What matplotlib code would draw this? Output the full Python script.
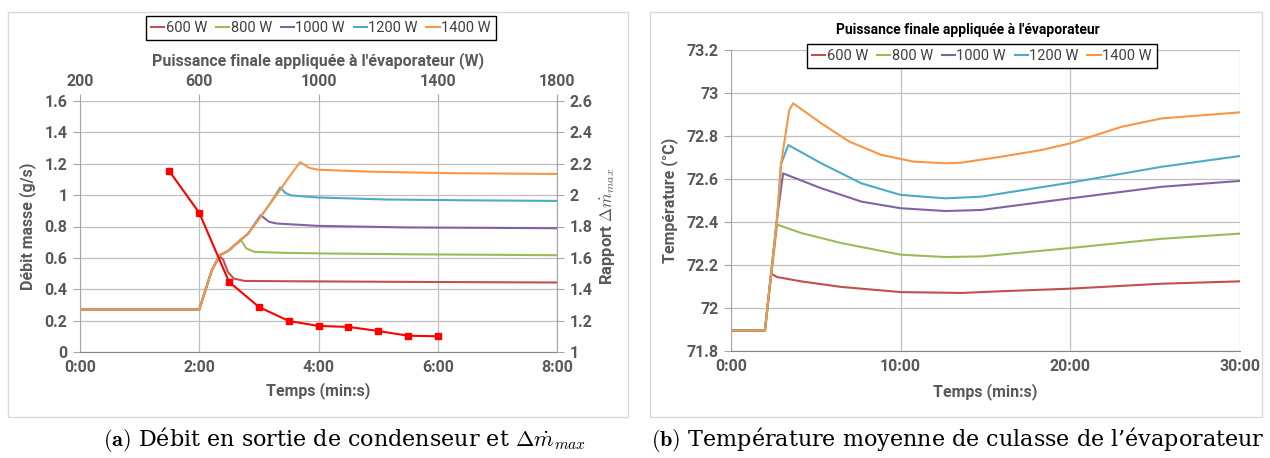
import matplotlib
matplotlib.use('Agg')
import matplotlib.pyplot as plt
from matplotlib.patches import Rectangle
from matplotlib.ticker import FuncFormatter, FormatStrFormatter
from matplotlib.lines import Line2D

plt.rcParams['font.family'] = ['Roboto', 'DejaVu Sans']
plt.rcParams['mathtext.fontset'] = 'cm'

# Office palette
COLORS = {
    '600 W': '#C0504D',
    '800 W': '#9BBB59',
    '1000 W': '#8064A2',
    '1200 W': '#4BACC6',
    '1400 W': '#F79646',
}
TXT = '#595959'
GRID = '#BFBFBF'
SERIES = ['600 W', '800 W', '1000 W', '1200 W', '1400 W']

# ---- (a) debit masse en sortie de condenseur (temps en minutes, g/s)
t_a_600 = [0, 2.0, 2.10, 2.21, 2.34, 2.40, 2.48, 2.58, 2.76, 3.5, 5.5, 8.0]
q_a_600 = [0.27, 0.27, 0.39, 0.52, 0.61, 0.59, 0.51, 0.468, 0.453, 0.451, 0.447, 0.443]
t_a_800 = [0, 2.0, 2.10, 2.21, 2.34, 2.48, 2.70, 2.79, 2.93, 3.44, 4.13, 5.5, 8.0]
q_a_800 = [0.27, 0.27, 0.39, 0.52, 0.617, 0.643, 0.713, 0.66, 0.638, 0.632, 0.628, 0.623, 0.617]
t_a_1000 = [0, 2.0, 2.10, 2.21, 2.34, 2.48, 2.69, 2.82, 3.03, 3.17, 3.30, 3.99, 5.5, 8.0]
q_a_1000 = [0.27, 0.27, 0.39, 0.52, 0.617, 0.643, 0.713, 0.755, 0.872, 0.83, 0.819, 0.804, 0.794, 0.789]
t_a_1200 = [0, 2.0, 2.10, 2.21, 2.34, 2.48, 2.69, 2.82, 3.03, 3.17, 3.36, 3.44, 3.54, 3.99, 5.15, 6.5, 8.0]
q_a_1200 = [0.27, 0.27, 0.39, 0.52, 0.617, 0.643, 0.713, 0.755, 0.862, 0.936, 1.05, 1.015, 0.998, 0.985, 0.972, 0.967, 0.963]
t_a_1400 = [0, 2.0, 2.10, 2.21, 2.34, 2.48, 2.69, 2.82, 3.03, 3.17, 3.37, 3.47, 3.69, 3.85, 3.99, 4.81, 6.18, 8.0]
q_a_1400 = [0.27, 0.27, 0.39, 0.52, 0.617, 0.643, 0.713, 0.755, 0.862, 0.936, 1.04, 1.096, 1.21, 1.173, 1.162, 1.15, 1.14, 1.135]

# rapport delta m_max en fonction de la puissance finale
puissance = [500, 600, 700, 800, 900, 1000, 1100, 1200, 1300, 1400]
rapport = [2.152, 1.887, 1.447, 1.287, 1.198, 1.166, 1.160, 1.134, 1.104, 1.100]

# ---- (b) temperature moyenne de culasse (temps en minutes, degC)
t_b_600 = [0, 2.0, 2.36, 2.72, 4.13, 6.5, 10.0, 13.6, 15.95, 20.0, 25.4, 30.0]
T_b_600 = [71.895, 71.895, 72.16, 72.144, 72.124, 72.098, 72.074, 72.07, 72.078, 72.09, 72.113, 72.124]
t_b_800 = [0, 2.0, 2.72, 4.13, 6.5, 10.0, 12.64, 14.76, 20.0, 25.4, 30.0]
T_b_800 = [71.895, 71.895, 72.388, 72.349, 72.302, 72.248, 72.237, 72.24, 72.279, 72.322, 72.346]
t_b_1000 = [0, 2.0, 2.72, 3.07, 5.32, 7.68, 10.0, 12.64, 14.76, 20.0, 25.4, 30.0]
T_b_1000 = [71.895, 71.895, 72.42, 72.626, 72.557, 72.495, 72.464, 72.451, 72.456, 72.51, 72.564, 72.591]
t_b_1200 = [0, 2.0, 2.72, 2.95, 3.38, 5.32, 7.68, 10.0, 12.64, 14.76, 20.0, 25.4, 30.0]
T_b_1200 = [71.895, 71.895, 72.42, 72.67, 72.758, 72.673, 72.58, 72.526, 72.51, 72.518, 72.583, 72.657, 72.707]
t_b_1400 = [0, 2.0, 2.72, 2.95, 3.43, 3.66, 5.32, 6.97, 8.86, 10.75, 12.64, 13.58, 15.95, 18.31, 20.0, 23.03, 25.4, 30.0]
T_b_1400 = [71.895, 71.895, 72.42, 72.67, 72.92, 72.952, 72.859, 72.774, 72.712, 72.681, 72.673, 72.676, 72.704, 72.735, 72.766, 72.843, 72.882, 72.91]

W, H = 1270, 458
fig = plt.figure(figsize=(W / 100, H / 100), dpi=100, facecolor='white')


def fx(px):
    return px / W


def fy(py):
    return 1 - py / H


def mmss(v, pos):
    m = int(v)
    s = int(round((v - m) * 60))
    return f'{m}:{s:02d}'


def style_axis(ax):
    ax.tick_params(colors=TXT, labelsize=11.5, length=0, pad=6)
    ax.tick_params(axis='y', length=5, color='#A6A6A6', direction='out', pad=4)
    for lab in ax.get_xticklabels() + ax.get_yticklabels():
        lab.set_fontweight('bold')
    ax.grid(True, color=GRID, linewidth=0.9)
    ax.set_axisbelow(True)
    for side in ['top', 'right']:
        ax.spines[side].set_visible(False)
    ax.spines['left'].set_color('#A6A6A6')
    ax.spines['bottom'].set_color('#868686')


def make_legend(x, y):
    handles = [Line2D([], [], color=COLORS[n], linewidth=1.5) for n in SERIES]
    leg = fig.legend(handles, SERIES, loc='center', bbox_to_anchor=(fx(x), fy(y)),
                     ncol=5, fontsize=10.5, handlelength=0.9, handletextpad=0.1,
                     columnspacing=0.6, frameon=True, fancybox=False,
                     borderpad=0.35, borderaxespad=0, framealpha=1)
    leg.get_frame().set_edgecolor('black')
    leg.get_frame().set_linewidth(1)
    for txt in leg.get_texts():
        txt.set_color('#404040')
    return leg


# panel frames
for x0, x1 in [(8, 628), (650, 1262)]:
    fig.add_artist(Rectangle((fx(x0), fy(417)), fx(x1 - x0), (417 - 12) / H,
                             transform=fig.transFigure, facecolor='none',
                             edgecolor='#D9D9D9', linewidth=1))

# ================= panel (a)
ax = fig.add_axes([fx(80), fy(352), fx(477), (352 - 101) / H])
data_a = [(t_a_600, q_a_600), (t_a_800, q_a_800), (t_a_1000, q_a_1000),
          (t_a_1200, q_a_1200), (t_a_1400, q_a_1400)]
for name, (t, q) in zip(SERIES, data_a):
    ax.plot(t, q, color=COLORS[name], linewidth=1.5)
ax.set_xlim(0, 8)
ax.set_ylim(0, 1.6)
ax.set_xticks([0, 2, 4, 6, 8])
ax.set_yticks([0, 0.2, 0.4, 0.6, 0.8, 1.0, 1.2, 1.4, 1.6])
ax.xaxis.set_major_formatter(FuncFormatter(mmss))
ax.yaxis.set_major_formatter(FormatStrFormatter('%g'))
style_axis(ax)
ax.set_xlabel('Temps (min:s)', fontsize=11.5, fontweight='bold', color=TXT, labelpad=5)
ax.set_ylabel('Débit masse (g/s)', fontsize=11.5, fontweight='bold', color=TXT, labelpad=6)

# secondary axes: power on top, ratio on right
axm = fig.add_axes(ax.get_position(), facecolor='none')
axm.plot(puissance, rapport, color='#FF0000', linewidth=1.5, marker='s',
         markersize=5, zorder=5)
axm.set_xlim(200, 1800)
axm.set_ylim(1, 2.6)
axm.set_xticks([200, 600, 1000, 1400, 1800])
axm.set_yticks([1, 1.2, 1.4, 1.6, 1.8, 2.0, 2.2, 2.4, 2.6])
axm.yaxis.set_major_formatter(FormatStrFormatter('%g'))
axm.xaxis.tick_top()
axm.xaxis.set_label_position('top')
axm.yaxis.tick_right()
axm.yaxis.set_label_position('right')
axm.tick_params(colors=TXT, labelsize=11.5, pad=4, length=5, color='#A6A6A6',
                direction='out')
for lab in axm.get_xticklabels() + axm.get_yticklabels():
    lab.set_fontweight('bold')
for side in ['top', 'left', 'bottom']:
    axm.spines[side].set_visible(False)
axm.spines['right'].set_color('#A6A6A6')
axm.set_xlabel("Puissance finale appliquée à l'évaporateur (W)", fontsize=11.5,
               fontweight='bold', color=TXT, labelpad=6)
axm.set_ylabel(r'Rapport $\Delta\dot{m}_{max}$', fontsize=12, fontweight='bold',
               color=TXT, labelpad=5)

make_legend(321, 28)

# ================= panel (b)
bx = fig.add_axes([fx(731), fy(351), fx(509), (351 - 50) / H])
data_b = [(t_b_600, T_b_600), (t_b_800, T_b_800), (t_b_1000, T_b_1000),
          (t_b_1200, T_b_1200), (t_b_1400, T_b_1400)]
for name, (t, T) in zip(SERIES, data_b):
    bx.plot(t, T, color=COLORS[name], linewidth=1.5)
bx.set_xlim(0, 30)
bx.set_ylim(71.8, 73.2)
bx.set_xticks([0, 10, 20, 30])
bx.set_yticks([71.8, 72.0, 72.2, 72.4, 72.6, 72.8, 73.0, 73.2])
bx.xaxis.set_major_formatter(FuncFormatter(mmss))
bx.yaxis.set_major_formatter(FormatStrFormatter('%g'))
style_axis(bx)
bx.set_xlabel('Temps (min:s)', fontsize=11.5, fontweight='bold', color=TXT, labelpad=6)
bx.set_ylabel('Température (°C)', fontsize=11.5, fontweight='bold', color=TXT, labelpad=6)

fig.text(fx(968), fy(30), "Puissance finale appliquée à l'évaporateur", ha='center',
         va='center', fontsize=10, fontweight='bold', color='black')
make_legend(982, 56)

# captions
cap = dict(ha='center', va='center', fontsize=16, color='black',
           family=['DejaVu Serif'])
fig.text(fx(345), fy(440), r'$\mathbf{(a)}$ Débit en sortie de condenseur et $\Delta\dot{m}_{max}$', **cap)
fig.text(fx(958), fy(440), r"$\mathbf{(b)}$ Température moyenne de culasse de l’évaporateur", **cap)

fig.savefig('out.png', dpi=100, facecolor='white')
